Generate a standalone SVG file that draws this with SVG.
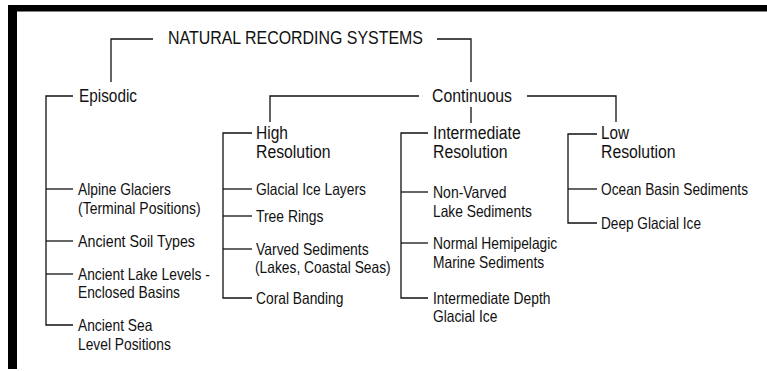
<svg xmlns="http://www.w3.org/2000/svg" width="767" height="371" viewBox="0 0 767 371">
<style>
text{font-family:"Liberation Sans",Arial,sans-serif;fill:#111}
.h{font-size:18px}
.l{font-size:16.5px}
.c{fill:none;stroke:#111;stroke-width:1.3}
</style>
<rect width="767" height="371" fill="#fff"/>
<g id="frame">
<rect x="8" y="5" width="759" height="6.5" fill="#000"/>
<rect x="8" y="5" width="9" height="364" fill="#000"/>
</g>
<g id="connectors" class="c">
<polyline points="153,39 111,39 111,82"/>
<polyline points="437,39 471,39 471,82"/>
<polyline points="73,96 46,96 46,325 73,325"/>
<line x1="46" y1="189" x2="73" y2="189"/>
<line x1="46" y1="241" x2="73" y2="241"/>
<line x1="46" y1="274" x2="73" y2="274"/>
<polyline points="419,96 270,96 270,122"/>
<polyline points="527,96 616,96 616,122"/>
<line x1="471" y1="107" x2="471" y2="123"/>
<polyline points="252,133 223,133 223,298 252,298"/>
<line x1="223" y1="189" x2="252" y2="189"/>
<line x1="223" y1="216" x2="252" y2="216"/>
<line x1="223" y1="249" x2="252" y2="249"/>
<polyline points="428,133 401,133 401,298 428,298"/>
<line x1="401" y1="192" x2="428" y2="192"/>
<line x1="401" y1="243" x2="428" y2="243"/>
<polyline points="597,134 568,134 568,223 597,223"/>
<line x1="568" y1="189" x2="597" y2="189"/>
</g>
<g id="root"><text class="h" x="168" y="44" textLength="255" lengthAdjust="spacingAndGlyphs">NATURAL RECORDING SYSTEMS</text></g>
<g id="episodic"><text class="h" x="79" y="102" textLength="58" lengthAdjust="spacingAndGlyphs">Episodic</text></g>
<g id="continuous"><text class="h" x="432" y="102" textLength="80" lengthAdjust="spacingAndGlyphs">Continuous</text></g>
<g id="ep-alpine"><text class="l" x="78" y="195" textLength="92.8" lengthAdjust="spacingAndGlyphs">Alpine Glaciers</text><text class="l" x="78" y="214" textLength="122.7" lengthAdjust="spacingAndGlyphs">(Terminal Positions)</text></g>
<g id="ep-soil"><text class="l" x="78" y="247" textLength="117" lengthAdjust="spacingAndGlyphs">Ancient Soil Types</text></g>
<g id="ep-lake"><text class="l" x="78" y="280" textLength="131.9" lengthAdjust="spacingAndGlyphs">Ancient Lake Levels -</text><text class="l" x="78" y="298" textLength="102" lengthAdjust="spacingAndGlyphs">Enclosed Basins</text></g>
<g id="ep-sea"><text class="l" x="78" y="331" textLength="74.4" lengthAdjust="spacingAndGlyphs">Ancient Sea</text><text class="l" x="78" y="350" textLength="92.8" lengthAdjust="spacingAndGlyphs">Level Positions</text></g>
<g id="high"><text class="h" x="256" y="139" textLength="32" lengthAdjust="spacingAndGlyphs">High</text><text class="h" x="256" y="158" textLength="74.6" lengthAdjust="spacingAndGlyphs">Resolution</text></g>
<g id="hi-ice"><text class="l" x="256" y="195" textLength="110" lengthAdjust="spacingAndGlyphs">Glacial Ice Layers</text></g>
<g id="hi-tree"><text class="l" x="256" y="222" textLength="67.5" lengthAdjust="spacingAndGlyphs">Tree Rings</text></g>
<g id="hi-varved"><text class="l" x="256" y="255" textLength="112.7" lengthAdjust="spacingAndGlyphs">Varved Sediments</text><text class="l" x="255" y="273" textLength="135.7" lengthAdjust="spacingAndGlyphs">(Lakes, Coastal Seas)</text></g>
<g id="hi-coral"><text class="l" x="256" y="304" textLength="87.4" lengthAdjust="spacingAndGlyphs">Coral Banding</text></g>
<g id="intermediate"><text class="h" x="433" y="139" textLength="87.8" lengthAdjust="spacingAndGlyphs">Intermediate</text><text class="h" x="433" y="158" textLength="74.6" lengthAdjust="spacingAndGlyphs">Resolution</text></g>
<g id="in-lake"><text class="l" x="433" y="198" textLength="73.6" lengthAdjust="spacingAndGlyphs">Non-Varved</text><text class="l" x="433" y="217" textLength="98.9" lengthAdjust="spacingAndGlyphs">Lake Sediments</text></g>
<g id="in-marine"><text class="l" x="433" y="249" textLength="124.2" lengthAdjust="spacingAndGlyphs">Normal Hemipelagic</text><text class="l" x="433" y="268" textLength="111.2" lengthAdjust="spacingAndGlyphs">Marine Sediments</text></g>
<g id="in-ice"><text class="l" x="433" y="304" textLength="117.4" lengthAdjust="spacingAndGlyphs">Intermediate Depth</text><text class="l" x="433" y="322" textLength="64.4" lengthAdjust="spacingAndGlyphs">Glacial Ice</text></g>
<g id="low"><text class="h" x="601" y="139" textLength="28" lengthAdjust="spacingAndGlyphs">Low</text><text class="h" x="601" y="158" textLength="74.6" lengthAdjust="spacingAndGlyphs">Resolution</text></g>
<g id="lo-ocean"><text class="l" x="601" y="195" textLength="147" lengthAdjust="spacingAndGlyphs">Ocean Basin Sediments</text></g>
<g id="lo-deep"><text class="l" x="601" y="229" textLength="100" lengthAdjust="spacingAndGlyphs">Deep Glacial Ice</text></g>
</svg>
